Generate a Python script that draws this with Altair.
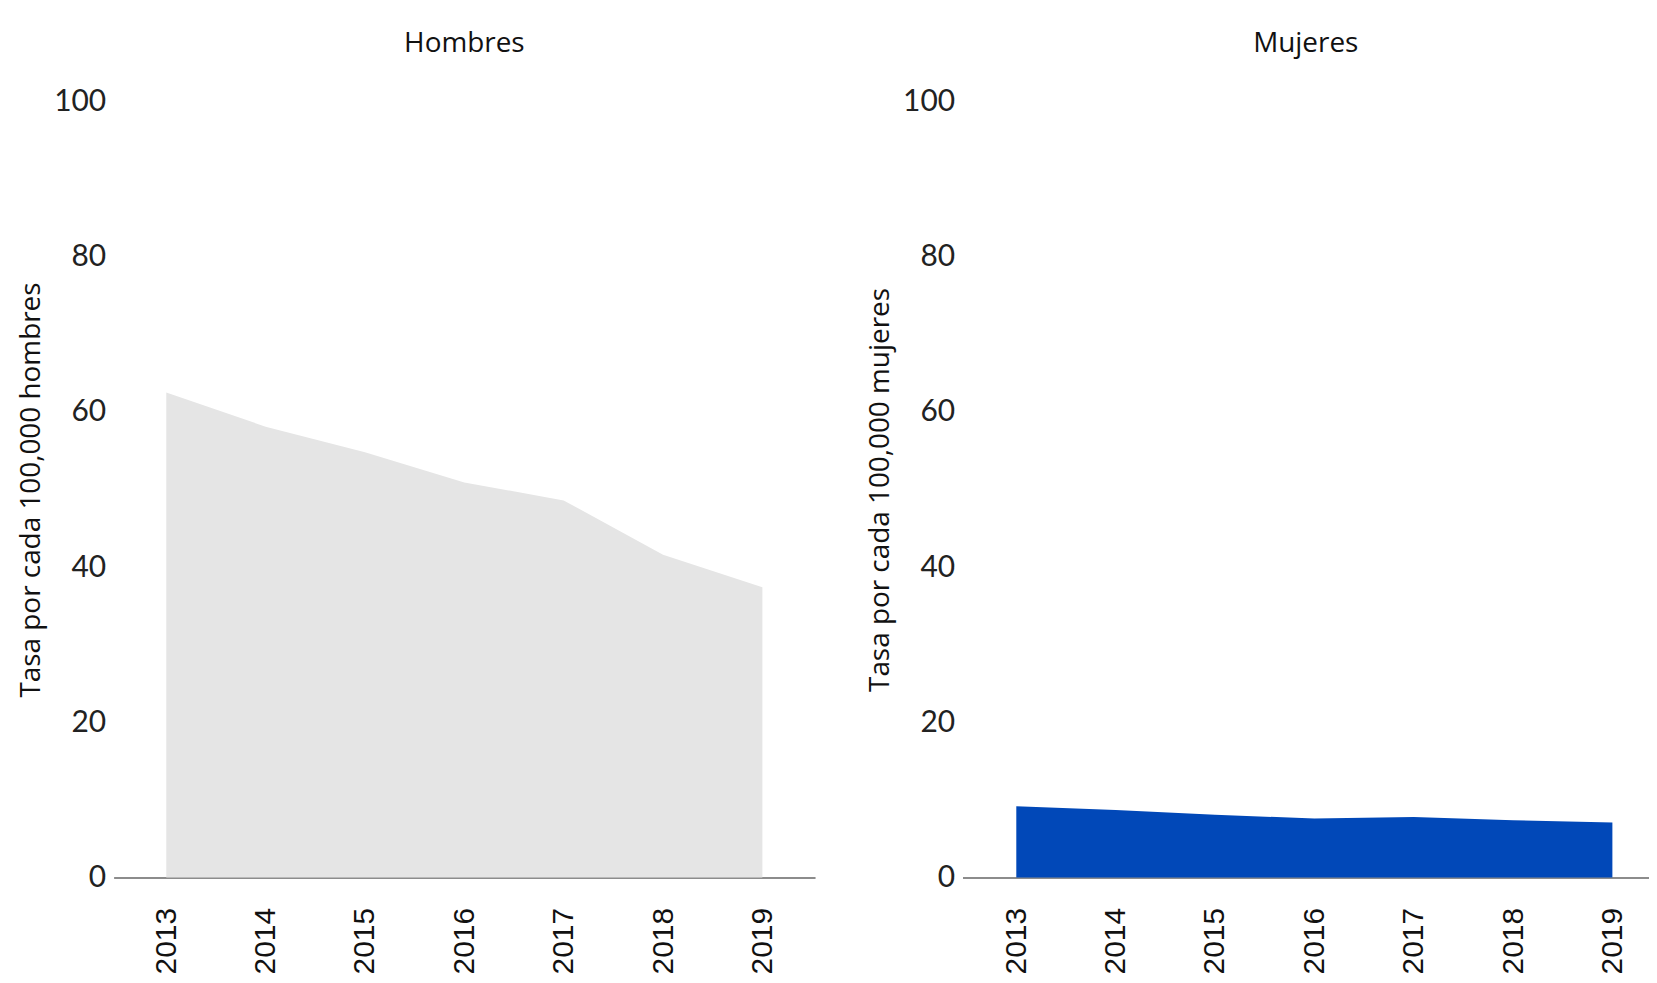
import altair as alt
import pandas as pd

years = ["2013", "2014", "2015", "2016", "2017", "2018", "2019"]
hombres = [62.5, 58.1, 54.8, 50.9, 48.6, 41.6, 37.4]
mujeres = [9.2, 8.7, 8.1, 7.6, 7.8, 7.4, 7.1]

df_h = pd.DataFrame({"anio": years, "tasa": hombres})
df_m = pd.DataFrame({"anio": years, "tasa": mujeres})

label_font_y = "Lato"
label_font_x = "Liberation Sans"
title_font = "Open Sans"


def panel(df, title, ytitle, color, width, padding, align):
    return (
        alt.Chart(df, title=alt.TitleParams(title, anchor="middle", frame="group",
                                            font=title_font, fontSize=28,
                                            fontWeight="normal", color="#111111",
                                            offset=29))
        .mark_area(color=color, opacity=1, interpolate="linear")
        .encode(
            x=alt.X("anio:O", sort=years,
                    scale=alt.Scale(type="point", padding=padding, align=align),
                    axis=alt.Axis(title=None, labelAngle=-90, labelFont=label_font_x,
                                  labelFontSize=30, labelColor="#111111",
                                  labelPadding=30, ticks=False,
                                  domainColor="#8c8c8c", domainWidth=2)),
            y=alt.Y("tasa:Q",
                    scale=alt.Scale(domain=[0, 100], nice=False),
                    axis=alt.Axis(title=ytitle, values=[0, 20, 40, 60, 80, 100],
                                  labelFont=label_font_y, labelFontSize=30,
                                  labelColor="#222222", labelPadding=8,
                                  ticks=False, domain=False, grid=False,
                                  titleFont=title_font, titleFontSize=28,
                                  titleFontWeight="normal", titleColor="#111111",
                                  titlePadding=8)),
        )
        .properties(width=width, height=779)
    )


left = panel(df_h, "Hombres", "Tasa por cada 100,000 hombres", "#e5e5e5", 704, 0.53, 0.5)
right = panel(df_m, "Mujeres", "Tasa por cada 100,000 mujeres", "#0148b8", 689, 0.455, 0.595)

chart = (
    alt.hconcat(left, right, spacing=51)
    .properties(padding={"left": 9, "top": 20, "right": 0, "bottom": 0})
    .configure_view(stroke=None)
    .configure_axis(grid=False)
)

chart.save("out.html", embed_options={"renderer": "svg", "actions": False})
